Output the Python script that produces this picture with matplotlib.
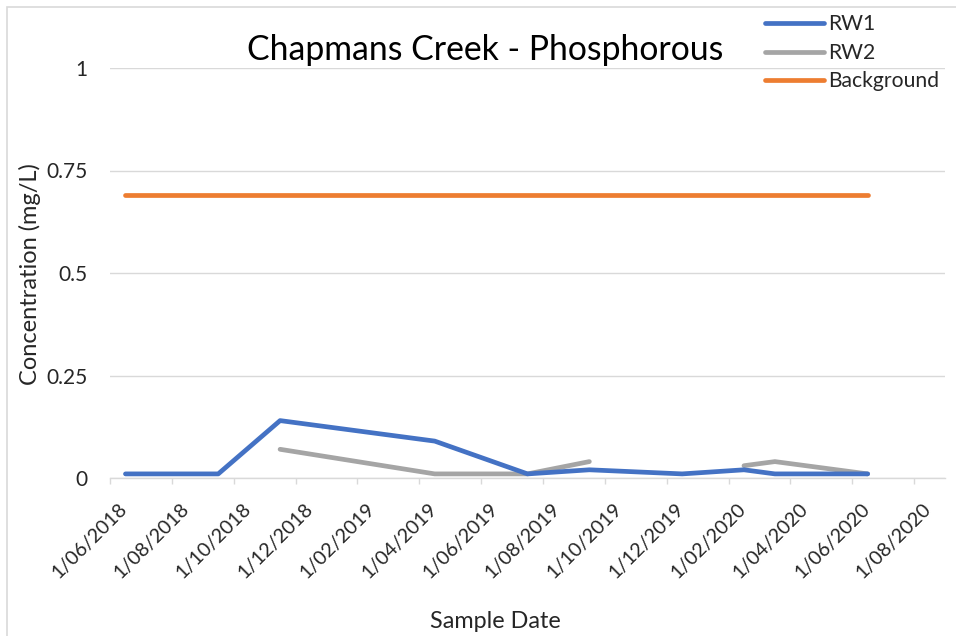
import matplotlib
matplotlib.use("Agg")
import matplotlib.pyplot as plt
import matplotlib.transforms as mtransforms
import numpy as np
import pandas as pd
from matplotlib.patches import Rectangle

# ---- data ----
sample_dates = ["2018-06-01", "2018-09-01", "2018-11-01", "2019-04-01", "2019-07-01",
                "2019-09-01", "2019-12-01", "2020-02-01", "2020-03-01", "2020-06-01"]
rw1 = [0.01, 0.01, 0.14, 0.09, 0.01, 0.02, 0.01, 0.02, 0.01, 0.01]
rw2 = [np.nan, np.nan, 0.07, 0.01, 0.01, 0.04, np.nan, 0.03, 0.04, 0.01]
background = [0.69] * 10
tick_labels = ["1/06/2018", "1/08/2018", "1/10/2018", "1/12/2018", "1/02/2019", "1/04/2019",
               "1/06/2019", "1/08/2019", "1/10/2019", "1/12/2019", "1/02/2020", "1/04/2020",
               "1/06/2020", "1/08/2020"]
y_ticks = [0, 0.25, 0.5, 0.75, 1]
y_tick_labels = ["0", "0.25", "0.5", "0.75", "1"]

FONT = "Lato"
plt.rcParams["font.family"] = [FONT, "DejaVu Sans"]
TXT = "#262626"

# month index (Excel date axis with base unit = months)
start = pd.Timestamp("2018-06-01")
d = pd.to_datetime(sample_dates)
months = np.array([(x.year - start.year) * 12 + (x.month - start.month) for x in d])
xpos = months + 0.5
n_slots = 27

fig = plt.figure(figsize=(9.56, 6.36), dpi=100)
W, H = 956, 636
ax = fig.add_axes([110 / W, 1 - 478 / H, (945 - 110) / W, (478 - 68) / H])

lw = 3.4
ax.plot(xpos, rw1, color="#4472C4", lw=lw, solid_capstyle="round", solid_joinstyle="round", label="RW1", zorder=4)
ax.plot(xpos, rw2, color="#A5A5A5", lw=lw, solid_capstyle="round", solid_joinstyle="round", label="RW2", zorder=3)
ax.plot(xpos, background, color="#ED7D31", lw=lw, solid_capstyle="round", solid_joinstyle="round", label="Background", zorder=3)

ax.set_xlim(0, n_slots)
ax.set_ylim(0, 1)
ax.set_yticks(y_ticks)
ax.set_yticklabels(y_tick_labels)
ax.yaxis.grid(True, color="#D9D9D9", lw=1.0)
ax.set_axisbelow(True)
for s in ["left", "right", "top"]:
    ax.spines[s].set_visible(False)
ax.spines["bottom"].set_color("#D9D9D9")
ax.spines["bottom"].set_linewidth(1.0)
ax.tick_params(axis="y", length=0, pad=16, labelsize=15, labelcolor=TXT)

major = np.arange(0, n_slots, 2)
ax.set_xticks(major)
ax.set_xticklabels([""] * len(major))
ax.set_xticks(major + 0.5, minor=True)
ax.set_xticklabels(tick_labels, minor=True, rotation=45, ha="right", va="top",
                   fontsize=14.2, color=TXT)
ax.tick_params(axis="x", which="major", length=4, width=1, color="#D9D9D9", direction="out")
ax.tick_params(axis="x", which="minor", length=0, pad=16)
offset = mtransforms.ScaledTranslation(5 / 100, 0, fig.dpi_scale_trans)
for lab in ax.xaxis.get_minorticklabels():
    lab.set_transform(lab.get_transform() + offset)

fig.text(485 / W, 1 - 50 / H, "Chapmans Creek - Phosphorous", ha="center", va="center",
         fontsize=24.3, color="black")
fig.text(30 / W, 1 - 274 / H, "Concentration (mg/L)", rotation=90, ha="center", va="center",
         fontsize=17, color=TXT)
fig.text(495 / W, 1 - 622 / H, "Sample Date", ha="center", va="center", fontsize=16.8, color=TXT)

handles, labels = ax.get_legend_handles_labels()
fig.legend(handles, labels, loc="upper left", bbox_to_anchor=(757 / W, 1 - 6 / H),
           frameon=False, fontsize=15.2, handlelength=2.75, handletextpad=0.2,
           labelspacing=0.4, labelcolor=TXT, borderaxespad=0)

fig.add_artist(Rectangle((7 / W, -0.1), 1.2, 1.1 - 7 / H, transform=fig.transFigure,
                         fill=False, edgecolor="#D9D9D9", lw=1.2))

fig.savefig("out.png", dpi=100)
